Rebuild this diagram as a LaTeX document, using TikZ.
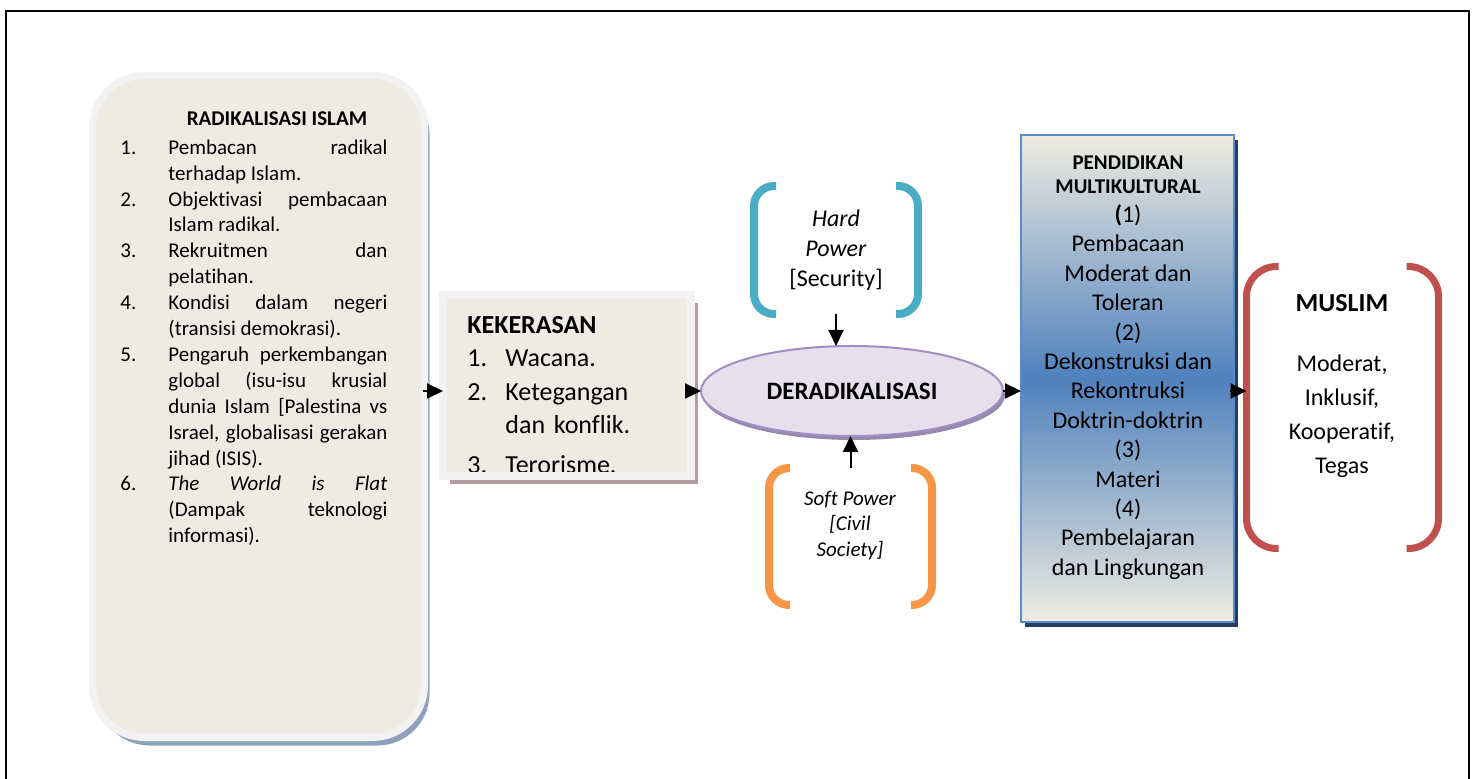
\documentclass[tikz,border=0pt]{standalone}
\usepackage{fontspec}
\setmainfont[Ligatures=NoCommon]{Carlito}
\usetikzlibrary{arrows.meta, shapes.geometric, shadows}
\definecolor{boxfill}{RGB}{238,236,225}
\definecolor{boxline}{RGB}{242,242,242}
\definecolor{radshadow}{RGB}{143,160,190}
\definecolor{kekshadow}{RGB}{180,156,160}
\definecolor{deradfill}{RGB}{229,224,236}
\definecolor{deradline}{RGB}{160,142,196}
\definecolor{deradshadow}{RGB}{150,138,172}
\definecolor{hardcolor}{RGB}{75,172,198}
\definecolor{softcolor}{RGB}{247,150,70}
\definecolor{muslimcolor}{RGB}{192,80,77}
\definecolor{pendblue}{RGB}{79,129,189}
\definecolor{pendline}{RGB}{91,139,205}
\definecolor{pendshadow}{RGB}{36,64,97}

% numbered line with hanging indent
\newcommand{\raditem}[2]{\par\noindent\hangindent=#1\hangafter=1\makebox[#1][l]{#2}\ignorespaces}

\begin{document}
\begin{tikzpicture}[x=0.5pt, y=-0.5pt,
  arr/.style={line width=1pt, -{Triangle[length=8pt, width=7.5pt]}},
  panel/.style={draw=boxline, fill=boxfill, inner sep=0pt, outer sep=0pt},
  brk/.style={line width=4pt, rounded corners=10pt},
  frame/.style={minimum width=#1, inner sep=0pt, outer sep=0pt}]

  \useasboundingbox (0,0) rectangle (1477,779);

  % Page frame, open at the bottom
  \draw[line width=1pt] (6,800) -- (6,11) -- (1469,11) -- (1469,800);

  % Radikalisasi panel
  \node[panel, line width=3.5pt, rounded corners=26pt, minimum width=166pt, minimum height=331pt,
        drop shadow={fill=radshadow, opacity=1, shadow xshift=2.5pt, shadow yshift=-4pt}] (rad) at (258.5,406.5) {};
  \node[font=\fontsize{10.5}{12.75}\selectfont\bfseries] (radhead) at (277,119) {RADIKALISASI ISLAM};
  \node[anchor=north west, inner sep=0pt, text width=133.5pt, align=justify,
        font=\fontsize{10.5}{12.95}\selectfont] (radlist) at (120,128) {\hyphenpenalty=10000\exhyphenpenalty=10000\tolerance=10000\hbadness=10000
    \raditem{24pt}{1.}Pembacan radikal\linebreak terhadap Islam.
    \raditem{24pt}{2.}Objektivasi pembacaan\linebreak Islam radikal.
    \raditem{24pt}{3.}Rekruitmen dan\linebreak pelatihan.
    \raditem{24pt}{4.}Kondisi dalam negeri\linebreak (transisi demokrasi).
    \raditem{24pt}{5.}Pengaruh perkembangan\linebreak global (isu-isu krusial\linebreak dunia Islam [Palestina vs\linebreak Israel, globalisasi gerakan\linebreak jihad (ISIS).
    \raditem{24pt}{6.}\textit{The World is Flat}\linebreak (Dampak teknologi\linebreak informasi).\par};

  % Kekerasan panel
  \node[panel, line width=4pt, minimum width=124pt, minimum height=90.5pt,
        drop shadow={fill=kekshadow, opacity=1, shadow xshift=3.5pt, shadow yshift=-4pt}] (kek) at (567,385.5) {};
  \node[anchor=north west, inner sep=0pt, text width=112pt, align=left,
        font=\fontsize{13}{16.75}\selectfont] (kektxt) at (467,316) {\textbf{KEKERASAN}
    \raditem{19pt}{1.}Wacana.
    \raditem{19pt}{2.}Ketegangan\hfil\break dan konflik.\par\vspace{3pt}
    \raditem{19pt}{3.}Terorisme.\par};
  \draw[boxline, line width=4pt] (kek.north west) rectangle (kek.south east);

  % Deradikalisasi
  \node[ellipse, draw=deradline, line width=1pt, fill=deradfill, minimum width=151pt, minimum height=45pt,
        inner sep=0pt, outer sep=0pt, font=\fontsize{12.5}{15}\selectfont\bfseries,
        drop shadow={fill=deradshadow, opacity=1, shadow xshift=1pt, shadow yshift=-2pt}] (derad) at (852,391) {\raisebox{-3.5pt}{DERADIKALISASI}};

  % Hard power
  \node[frame=82pt, minimum height=64pt, align=center, font=\fontsize{12}{15}\selectfont] (hard) at (836,250) {\textit{Hard}\\\textit{Power}\\{[}Security{]}};
  \draw[brk, hardcolor] ([xshift=11pt]hard.north west) -- (hard.north west) -- (hard.south west) -- ([xshift=11pt]hard.south west);
  \draw[brk, hardcolor] ([xshift=-11pt]hard.north east) -- (hard.north east) -- (hard.south east) -- ([xshift=-11pt]hard.south east);

  % Soft power
  \node[frame=81.5pt, minimum height=68.5pt] (soft) at (850.5,536.5) {};
  \node[align=center, font=\fontsize{10.5}{12.75}\selectfont\itshape] (softtxt) at (850,525) {Soft Power\\{[}Civil\\Society{]}};
  \draw[brk, softcolor] ([xshift=10.5pt]soft.north west) -- (soft.north west) -- (soft.south west) -- ([xshift=10.5pt]soft.south west);
  \draw[brk, softcolor] ([xshift=-10.5pt]soft.north east) -- (soft.north east) -- (soft.south east) -- ([xshift=-10.5pt]soft.south east);

  % Pendidikan multikultural
  \node[draw=pendline, line width=1.2pt, top color=boxfill, bottom color=boxfill, middle color=pendblue,
        minimum width=106.5pt, minimum height=243.5pt, inner sep=0pt, outer sep=0pt,
        drop shadow={fill=pendshadow, opacity=1, shadow xshift=2pt, shadow yshift=-2.5pt}] (pend) at (1127.5,378.5) {};
  \node[align=center, font=\fontsize{10.5}{12}\selectfont\bfseries] (pendhead) at (1128,175) {PENDIDIKAN\\MULTIKULTURAL};
  \node[align=center, font=\fontsize{12}{14.7}\selectfont] (pendbody) at (1128,392) {\textbf{(}1)\\Pembacaan\\Moderat dan\\Toleran\\(2)\\Dekonstruksi dan\\Rekontruksi\\Doktrin-doktrin\\(3)\\Materi\\(4)\\Pembelajaran\\dan Lingkungan};

  % Muslim
  \node[frame=96pt, minimum height=141pt] (muslim) at (1342.5,407.5) {};
  \draw[brk, muslimcolor, line width=3.5pt, rounded corners=15pt] ([xshift=16pt]muslim.north west) -- (muslim.north west) -- (muslim.south west) -- ([xshift=16pt]muslim.south west);
  \draw[brk, muslimcolor, line width=3.5pt, rounded corners=15pt] ([xshift=-16pt]muslim.north east) -- (muslim.north east) -- (muslim.south east) -- ([xshift=-16pt]muslim.south east);
  \node[font=\fontsize{13}{15}\selectfont\bfseries] (muslimhead) at (1342,303) {MUSLIM};
  \node[align=center, font=\fontsize{12}{17}\selectfont] (muslimval) at (1342,416) {Moderat,\\Inklusif,\\Kooperatif,\\Tegas};

  % Connectors
  \draw[arr] ([xshift=-1pt]rad.east |- derad.west) -- (kek.west |- derad.west);
  \draw[arr] ([xshift=-3pt]kek.east |- derad.west) -- (derad.west);
  \draw[arr] (derad.east) -- (derad.east -| pend.west);
  \draw[arr] ([xshift=-2pt]pend.east |- derad.east) -- (muslim.west |- derad.east);
  \draw[arr] (hard.south) -- (hard.south |- derad.north);
  \draw[arr] (soft.north) -- (soft.north |- derad.south);

\end{tikzpicture}
\end{document}
